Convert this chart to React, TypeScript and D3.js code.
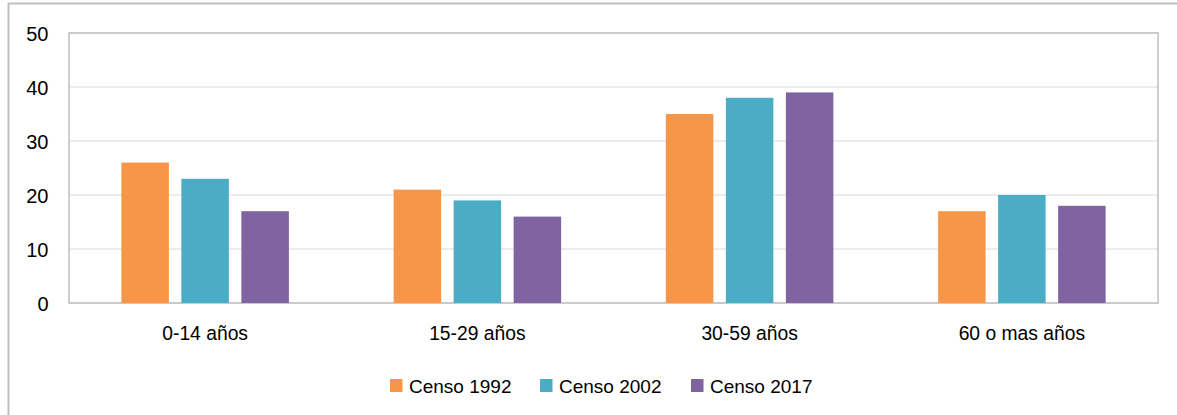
import React from "react";
import * as d3 from "d3";

const categories = ["0-14 años", "15-29 años", "30-59 años", "60 o mas años"];
const seriesNames = ["Censo 1992", "Censo 2002", "Censo 2017"];
const censo1992 = [26, 21, 35, 17];
const censo2002 = [23, 19, 38, 20];
const censo2017 = [17, 16, 39, 18];
const yTicks = [0, 10, 20, 30, 40, 50];
const colors = ["#F79646", "#4BACC6", "#8064A2"];

export default function App() {
  const W = 1177, H = 415;
  const left = 69, right = 1158, top = 33, bottom = 303;
  const series = [censo1992, censo2002, censo2017];
  const x0 = d3.scaleBand().domain(categories).range([left, right]).paddingInner(0).paddingOuter(0);
  const y = d3.scaleLinear().domain([0, 50]).range([bottom, top]);
  const groupW = x0.bandwidth();
  const barW = 47.5;
  const gap = 12.5;
  const x1 = d3.scaleBand().domain(seriesNames).range([0, barW * 3 + gap * 2]).paddingInner(gap / (barW + gap)).paddingOuter(0);
  const inner = barW * 3 + gap * 2;
  const font = "'Liberation Sans', Arial, sans-serif";
  const legendX = [390, 540, 691];
  return (
    <svg width={W} height={H} style={{ position: "absolute", left: 0, top: 0 }} fontFamily={font}>
      <rect x={0} y={0} width={W} height={H} fill="#fff" />
      <line x1={8} x2={W} y1={3.5} y2={3.5} stroke="#bfbfbf" strokeWidth={2} />
      <line x1={8.5} x2={8.5} y1={3} y2={H} stroke="#bfbfbf" strokeWidth={2} />
      {yTicks.map((t) => (
        <g key={t}>
          <line x1={left} x2={right} y1={y(t)} y2={y(t)} stroke="#d9d9d9" strokeWidth={1.2} />
          <text x={48.5} y={y(t) + 8.3} textAnchor="end" fontSize={20} fill="#000">{t}</text>
        </g>
      ))}
      <rect x={left} y={top} width={right - left} height={bottom - top} fill="none" stroke="#bfbfbf" strokeWidth={1.5} />
      {categories.map((c, i) => {
        const gx = (x0(c) as number) + (groupW - inner) / 2;
        return (
          <g key={c}>
            {series.map((s, j) => (
              <rect key={j} x={gx + (x1(seriesNames[j]) as number)} y={y(s[i])} width={x1.bandwidth()} height={y(0) - y(s[i])} fill={colors[j]} />
            ))}
            <text x={(x0(c) as number) + groupW / 2} y={339.5} textAnchor="middle" fontSize={19.3} fill="#000">{c}</text>
          </g>
        );
      })}
      {seriesNames.map((n, j) => (
        <g key={n}>
          <rect x={legendX[j]} y={379} width={12.5} height={13} fill={colors[j]} />
          <text x={legendX[j] + 19} y={392.5} fontSize={19} fill="#000">{n}</text>
        </g>
      ))}
    </svg>
  );
}
